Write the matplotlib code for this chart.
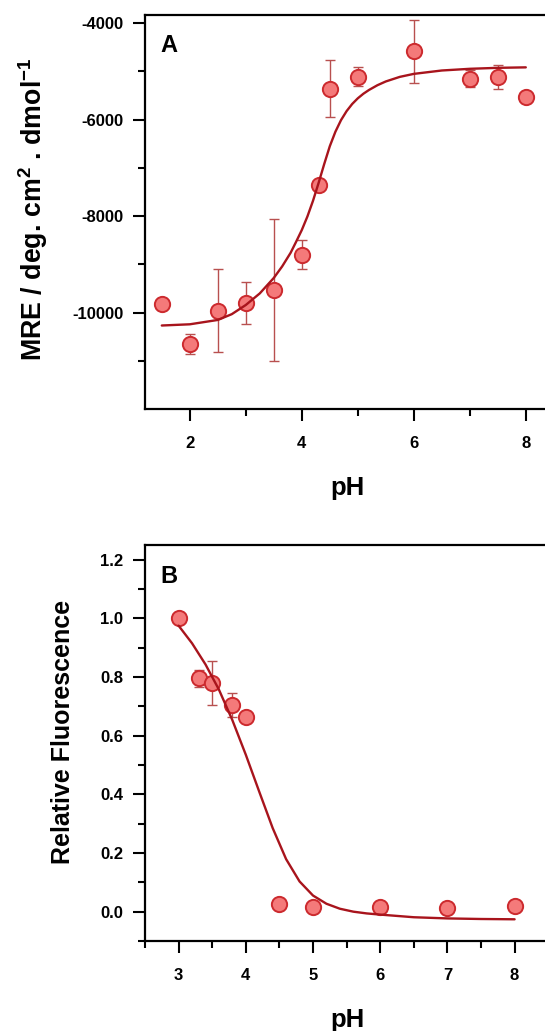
import matplotlib
matplotlib.use("Agg")
import matplotlib.pyplot as plt
from matplotlib.ticker import FixedLocator, MultipleLocator, FormatStrFormatter

# ---------------- data ----------------
# Panel A: CD (MRE) vs pH
phA = [1.5, 2.0, 2.5, 3.0, 3.5, 4.0, 4.3, 4.5, 5.0, 6.0, 7.0, 7.5, 8.0]
mreA = [-9810, -10650, -9955, -9792, -9525, -8795, -7360, -5359, -5115, -4586, -5155, -5115, -5538]
errA = [0, 210, 850, 432, 1475, 310, 0, 586, 200, 655, 175, 252, 0]
# fitted curve A
fit_phA = [1.5, 2.0, 2.5, 2.75, 3.0, 3.25, 3.5, 3.65, 3.8, 3.9, 4.0, 4.1, 4.2, 4.3, 4.4,
           4.5, 4.6, 4.7, 4.8, 4.9, 5.0, 5.1, 5.2, 5.35, 5.5, 5.75, 6.0, 6.5, 7.0, 7.5, 8.0]
fit_mreA = [-10265, -10240, -10150, -10030, -9840, -9600, -9280, -9040, -8760, -8528,
            -8288, -8008, -7683, -7313, -6923, -6553, -6253, -6013, -5826, -5678,
            -5561, -5466, -5388, -5290, -5212, -5117, -5055, -4985, -4950, -4930, -4920]

# Panel B: relative fluorescence vs pH
phB = [3.0, 3.3, 3.5, 3.8, 4.0, 4.5, 5.0, 6.0, 7.0, 8.0]
fluB = [1.0, 0.795, 0.780, 0.704, 0.665, 0.026, 0.016, 0.016, 0.012, 0.019]
errB = [0, 0.03, 0.074, 0.04, 0, 0, 0, 0, 0, 0]
fit_phB = [3.0, 3.2, 3.4, 3.6, 3.8, 4.0, 4.2, 4.4, 4.6, 4.8, 5.0, 5.2, 5.4, 5.6,
           5.8, 6.0, 6.5, 7.0, 7.5, 8.0]
fit_fluB = [0.975, 0.915, 0.843, 0.757, 0.653, 0.535, 0.409, 0.285, 0.179, 0.103,
            0.055, 0.027, 0.010, 0.000, -0.006, -0.010, -0.019, -0.023, -0.025, -0.026]

ticksA_x = [2, 4, 6, 8]
ticksA_y = [-10000, -8000, -6000, -4000]
minorA_y = [-11000, -9000, -7000, -5000]
ticksB_x = [3, 4, 5, 6, 7, 8]
ticksB_y = [0.0, 0.2, 0.4, 0.6, 0.8, 1.0, 1.2]

# ---------------- style ----------------
plt.rcParams['font.family'] = ['Liberation Sans', 'DejaVu Sans']
plt.rcParams['font.weight'] = 'bold'
plt.rcParams['axes.unicode_minus'] = False
plt.rcParams['mathtext.fontset'] = 'custom'
plt.rcParams['mathtext.rm'] = 'Liberation Sans:bold'
plt.rcParams['mathtext.bf'] = 'Liberation Sans:bold'
plt.rcParams['mathtext.it'] = 'Liberation Sans:bold'
plt.rcParams['mathtext.default'] = 'bf'

FACE = '#f47a7a'
EDGE = '#cc2a2e'
CURVE = '#a8141c'
ERRC = '#b8504f'

W, H = 545, 1031
fig = plt.figure(figsize=(W / 100, H / 100), dpi=100)


def px_axes(l, t, r, b):
    return fig.add_axes([l / W, 1 - b / H, (r - l) / W, (b - t) / H])


def style_axes(ax):
    for s in ax.spines.values():
        s.set_linewidth(1.6)
        s.set_color('black')
    ax.tick_params(which='major', direction='out', length=8.6, width=1.5,
                   labelsize=12, pad=7)
    ax.tick_params(which='minor', direction='out', length=5, width=1.5)
    ax.tick_params(axis='x', which='major', pad=10.5)
    for lab in ax.get_xticklabels() + ax.get_yticklabels():
        lab.set_fontweight('bold')


def draw(ax, x, y, e, fx, fy):
    xe = [a for a, b in zip(x, e) if b > 0]
    ye = [a for a, b in zip(y, e) if b > 0]
    ee = [b for b in e if b > 0]
    ax.errorbar(xe, ye, yerr=ee, fmt='none', ecolor=ERRC, elinewidth=1.0,
                capsize=3.8, capthick=1.0, zorder=2)
    ax.plot(x, y, 'o', ms=11, mfc=FACE, mec=EDGE, mew=1.4, zorder=3)
    ax.plot(fx, fy, '-', color=CURVE, lw=1.7, zorder=4,
            solid_joinstyle='round', solid_capstyle='round')


# Panel A
axA = px_axes(145, 15, 548.2, 409.3)
draw(axA, phA, mreA, errA, fit_phA, fit_mreA)
axA.set_xlim(1.2, 8.4)
axA.set_ylim(-12000, -3836)
axA.xaxis.set_major_locator(FixedLocator(ticksA_x))
axA.xaxis.set_minor_locator(MultipleLocator(1))
axA.yaxis.set_major_locator(FixedLocator(ticksA_y))
axA.yaxis.set_minor_locator(FixedLocator(minorA_y))
axA.yaxis.set_major_formatter(FormatStrFormatter('%d'))
style_axes(axA)

# Panel B
axB = px_axes(145, 545, 548.2, 941)
draw(axB, phB, fluB, errB, fit_phB, fit_fluB)
axB.set_xlim(2.5, 8.5)
axB.set_ylim(-0.1, 1.25)
axB.xaxis.set_major_locator(FixedLocator(ticksB_x))
axB.xaxis.set_minor_locator(MultipleLocator(0.5))
axB.yaxis.set_major_locator(FixedLocator(ticksB_y))
axB.yaxis.set_minor_locator(MultipleLocator(0.1))
axB.yaxis.set_major_formatter(FormatStrFormatter('%.1f'))
style_axes(axB)

# texts
fig.text(160 / W, 1 - 34 / H, 'A', ha='left', va='top', fontsize=17, fontweight='bold')
fig.text(160 / W, 1 - 565 / H, 'B', ha='left', va='top', fontsize=17, fontweight='bold')
fig.text(347 / W, 1 - 495.3 / H, 'pH', ha='center', va='baseline', fontsize=18.5, fontweight='bold')
fig.text(347 / W, 1 - 1026.7 / H, 'pH', ha='center', va='baseline', fontsize=18.5, fontweight='bold')
fig.text(33 / W, 1 - 209 / H, 'MRE / deg. cm$^{2}$ . dmol$^{-1}$', rotation=90,
         ha='center', va='center', fontsize=19.3, fontweight='bold')
fig.text(63 / W, 1 - 731.5 / H, 'Relative Fluorescence', rotation=90,
         ha='center', va='center', fontsize=18, fontweight='bold')

fig.savefig('out.png', dpi=100)
